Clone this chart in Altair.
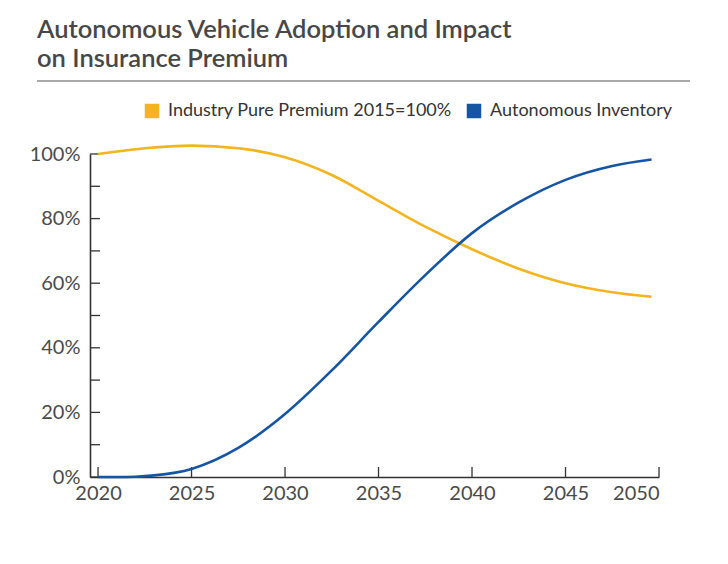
import altair as alt
import pandas as pd

# ---- data ----
premium_years = [2020, 2022.5, 2025, 2027.5, 2030, 2032.5, 2035, 2037.5, 2040, 2042.5, 2045, 2047.5, 2049.6]
premium_vals = [1.00, 1.018, 1.026, 1.018, 0.99, 0.935, 0.855, 0.775, 0.705, 0.645, 0.60, 0.572, 0.558]

auto_years = [2020, 2021, 2022, 2023, 2025, 2027.5, 2030, 2032.5, 2035, 2037.5, 2040, 2042.5, 2045, 2047.5, 2049.6]
auto_vals = [0.0, 0.0, 0.001, 0.005, 0.025, 0.09, 0.195, 0.33, 0.48, 0.625, 0.755, 0.85, 0.92, 0.963, 0.983]

series_names = ["Industry Pure Premium 2015=100%", "Autonomous Inventory"]
series_colors = ["#F4B41F", "#1555A3"]

x_ticks = [2020, 2025, 2030, 2035, 2040, 2045, 2050]
y_ticks = [0.0, 0.1, 0.2, 0.3, 0.4, 0.5, 0.6, 0.7, 0.8, 0.9, 1.0]
y_labels = [0.0, 0.2, 0.4, 0.6, 0.8, 1.0]

title_lines = ["Autonomous Vehicle Adoption and Impact", "on Insurance Premium"]

FONT = "Lato"
W, H = 569, 323

df = pd.concat([
    pd.DataFrame({"year": premium_years, "value": premium_vals, "series": series_names[0]}),
    pd.DataFrame({"year": auto_years, "value": auto_vals, "series": series_names[1]}),
])

xscale = alt.Scale(domain=[2019.57, 2050], nice=False, zero=False)
yscale = alt.Scale(domain=[0, 1], nice=False)

lines = alt.Chart(df).mark_line(strokeWidth=2.6, interpolate="monotone", clip=False).encode(
    x=alt.X("year:Q", scale=xscale,
            axis=alt.Axis(values=x_ticks, format="d", title=None, tickSize=0, labelPadding=6,
                          labelFontSize=20, labelColor="#4a4a4a", labelFont=FONT,
                          domainColor="#333333", domainWidth=1.6, grid=False)),
    y=alt.Y("value:Q", scale=yscale,
            axis=alt.Axis(values=y_labels, format=".0%", title=None, tickSize=0, labelPadding=10,
                          labelFontSize=20, labelColor="#4a4a4a", labelFont=FONT,
                          domainColor="#333333", domainWidth=1.6, grid=False)),
    color=alt.Color("series:N", sort=series_names,
                    scale=alt.Scale(domain=series_names, range=series_colors),
                    legend=alt.Legend(orient="none", legendX=53, legendY=-52, direction="horizontal",
                                      title=None, symbolType="square", symbolSize=36,
                                      symbolStrokeWidth=8.5, labelFontSize=18, labelFont=FONT,
                                      labelColor="#333333", columnPadding=2, labelLimit=400,
                                      labelOffset=7)),
)

xt = alt.Chart(pd.DataFrame({"t": x_ticks})).mark_rule(color="#333333", strokeWidth=1.3).encode(
    x=alt.X("t:Q", scale=xscale), y=alt.value(H), y2=alt.value(H - 10))
yt = alt.Chart(pd.DataFrame({"t": y_ticks})).mark_rule(color="#333333", strokeWidth=1.3).encode(
    y=alt.Y("t:Q", scale=yscale), x=alt.value(0), x2=alt.value(10))

sep = alt.Chart(pd.DataFrame({"a": [0]})).mark_rule(color="#8c8c8c", strokeWidth=1.5).encode(
    x=alt.value(-53), x2=alt.value(600), y=alt.value(-73))

chart = alt.layer(xt, yt, sep, lines).properties(
    width=W, height=H,
    autosize=alt.AutoSizeParams(type="none"),
    padding={"left": 82, "top": 146, "right": 60, "bottom": 70},
    title=alt.Title(title_lines, anchor="start", frame="group", dx=-53, offset=8,
                    fontSize=25.5, fontWeight=600, font=FONT, color="#474747", lineHeight=28.5),
).configure(background="white").configure_view(strokeWidth=0)

chart.save("out.html", embed_options={"renderer": "svg", "actions": False})
